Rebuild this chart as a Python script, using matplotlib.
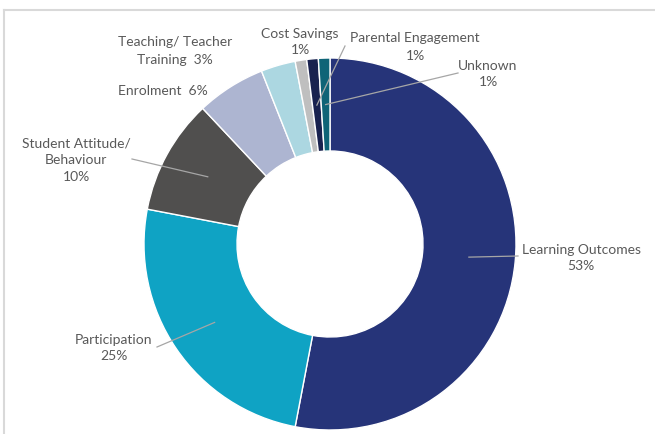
import numpy as np
import matplotlib.pyplot as plt

# share of studies by outcome type, clockwise from 12 o'clock
categories = ['Learning Outcomes', 'Participation', 'Student Attitude/ Behaviour',
              'Enrolment', 'Teaching/ Teacher Training', 'Cost Savings',
              'Parental Engagement', 'Unknown']
shares = [53, 25, 10, 6, 3, 1, 1, 1]
label_texts = ['Learning Outcomes\n{}%', 'Participation\n{}%', 'Student Attitude/\nBehaviour\n{}%',
               'Enrolment  {}%', 'Teaching/ Teacher\nTraining  {}%', 'Cost Savings\n{}%',
               'Parental Engagement\n{}%', 'Unknown\n{}%']

colors = ['#263479', '#0fa3c4', '#504f4e', '#adb5d1', '#acd7e1', '#bfbfbf', '#19224f', '#0f6477']

# label centres and leader-line end points in pixel space
label_pos = [(581, 258), (114, 348), (76, 160), (163, 91), (175, 51), (300, 42), (415, 47), (488, 74)]
leader_end = [(518, 256), (157, 347), (132, 159), None, None, None, (345, 46), (458, 73)]

W, H = 655, 434
cx, cy = 330, 244
r_out, r_in = 186, 93

fig = plt.figure(figsize=(W / 100, H / 100), dpi=100)
ax = fig.add_axes([0, 0, 1, 1])
ax.set_xlim(0, W)
ax.set_ylim(H, 0)
ax.axis('off')

# y axis is flipped, so start at -90 and go counterclockwise in data space
wedges, _ = ax.pie(shares, colors=colors, startangle=-90, counterclock=True,
                   center=(cx, cy), radius=r_out,
                   wedgeprops=dict(width=r_out - r_in, edgecolor='white', linewidth=1.0))
ax.set_xlim(0, W)
ax.set_ylim(H, 0)

font = ['Lato', 'DejaVu Sans']
for w, txt, val, pos, end in zip(wedges, label_texts, shares, label_pos, leader_end):
    ax.text(pos[0], pos[1], txt.format(val), ha='center', va='center', fontsize=10,
            color='#595959', family=font, linespacing=1.5)
    if end is not None:
        mid = np.deg2rad((w.theta1 + w.theta2) / 2)
        rm = (r_out + r_in) / 2
        x0, y0 = cx + rm * np.cos(mid), cy + rm * np.sin(mid)
        ax.plot([x0, end[0]], [y0, end[1]], color='#a6a6a6', lw=0.9)

# chart area border (top and left edges visible)
ax.plot([4, W], [10, 10], color='#d9d9d9', lw=1.5, clip_on=False)
ax.plot([4, 4], [10, H], color='#d9d9d9', lw=1.5, clip_on=False)

fig.savefig('out.png', dpi=100)
